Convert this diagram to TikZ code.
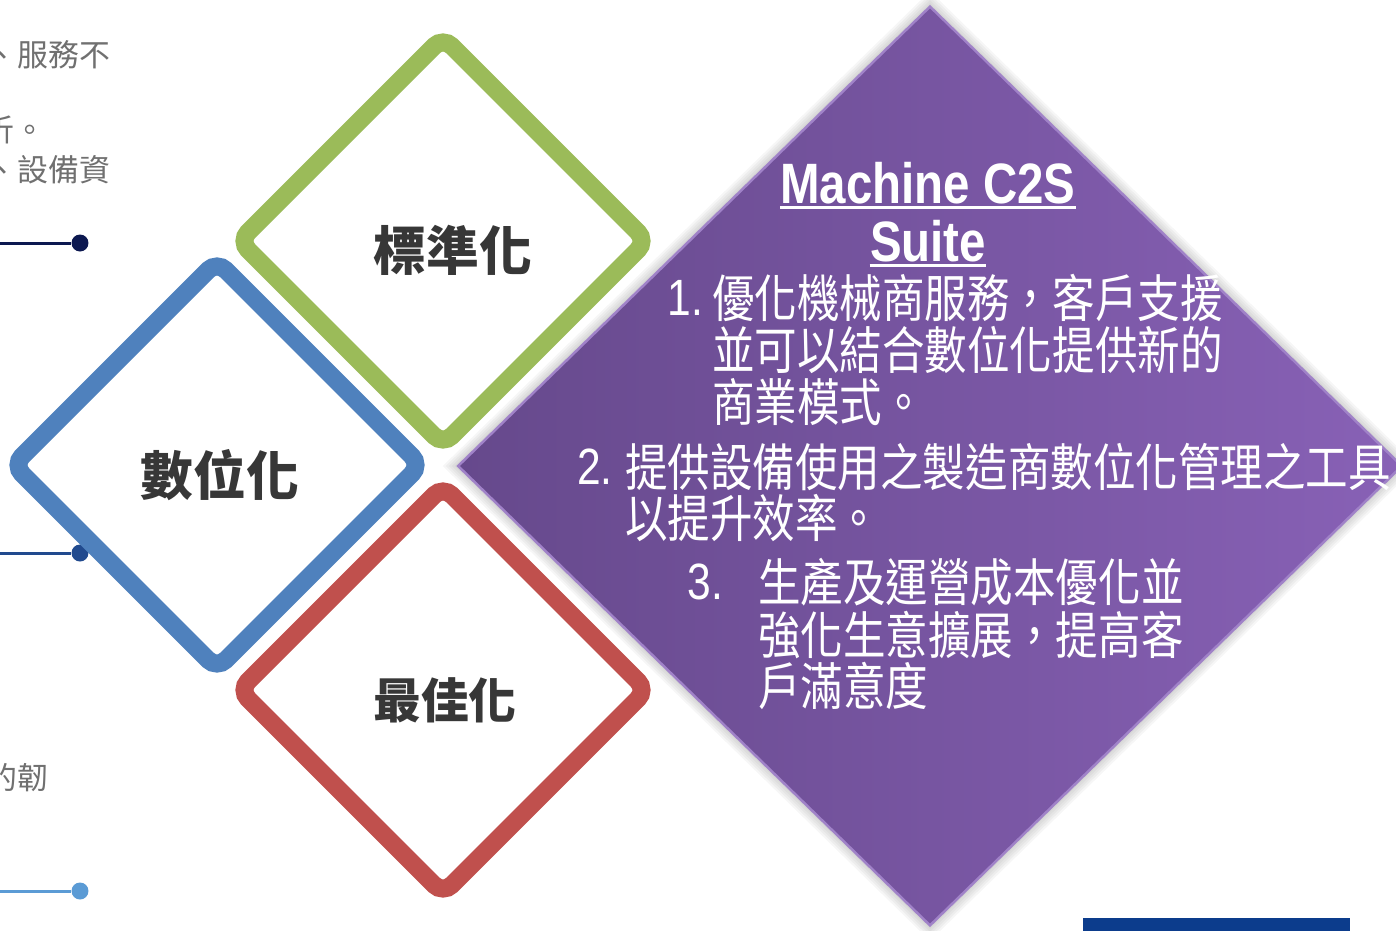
\documentclass[tikz,border=0pt]{standalone}
\usepackage{fontspec}
\usepackage{graphicx}
\setmainfont{Liberation Sans}
\newfontfamily\cjk{Noto Sans CJK TC}
\usetikzlibrary{shapes.geometric}

\definecolor{stdgreen}{RGB}{155,187,89}
\definecolor{digblue}{RGB}{79,129,189}
\definecolor{optred}{RGB}{192,80,77}
\definecolor{suiteleft}{RGB}{102,73,140}
\definecolor{suiteright}{RGB}{136,97,182}
\definecolor{suiteedge}{RGB}{160,130,200}
\definecolor{sidegray}{RGB}{112,112,112}
\definecolor{labelgray}{RGB}{55,55,55}
\definecolor{navyline}{RGB}{12,24,80}
\definecolor{midline}{RGB}{33,74,142}
\definecolor{lightline}{RGB}{91,155,213}
\definecolor{barblue}{RGB}{12,60,140}

\newcommand{\tallrow}[1]{\scalebox{1}[1.2]{#1}}

\tikzset{
  ring/.style={diamond, aspect=1, inner sep=0pt, minimum width=8.3cm, minimum height=8.3cm,
    line width=0.36cm, rounded corners=0.25cm, fill=white},
  suite/.style={diamond, inner sep=0pt, minimum width=18.9cm, minimum height=18.4cm,
    left color=suiteleft, right color=suiteright, draw=suiteedge, line width=0.05cm},
  halo/.style={diamond, inner sep=0pt, fill=black, fill opacity=0.035},
  ringlabel/.style={inner sep=0pt, text=labelgray, font=\cjk\bfseries\fontsize{30}{36}\selectfont},
  sidetext/.style={anchor=west, inner sep=0pt, text=sidegray, font=\cjk\fontsize{17.6}{21}\selectfont},
  suitetext/.style={anchor=west, inner sep=0pt, text=white, font=\cjk\fontsize{24.2}{29}\selectfont},
  suitenum/.style={anchor=west, inner sep=0pt, text=white, font=\fontsize{24.2}{29}\selectfont},
  suitetitle/.style={inner sep=0pt, text=white, font=\bfseries\fontsize{27}{32}\selectfont},
  pinline/.style={line width=0.06cm},
  pin/.style={circle, inner sep=0pt, minimum size=0.34cm}
}

\begin{document}
\begin{tikzpicture}[x=0.02cm, y=-0.02cm]
  \useasboundingbox (0,0) rectangle (1396,930);

  % text running in from the left
  \node[sidetext] (side1) at (-14,55) {、服務不};
  \node[sidetext] (side2) at (-17,130) {析。};
  \node[sidetext] (side3) at (-14,170) {、設備資};
  \node[sidetext] (side4) at (-14,778) {的韌};

  % pins on the left
  \coordinate (navystart) at (-5,243);
  \node[pin, fill=navyline] (navypin) at (80,243) {};
  \draw[pinline, navyline] (navystart) -- (navypin);
  \coordinate (midstart) at (-5,553);
  \node[pin, fill=midline] (midpin) at (80,553) {};
  \draw[pinline, midline] (midstart) -- (midpin);
  \coordinate (lightstart) at (-5,891);
  \node[pin, fill=lightline] (lightpin) at (80,891) {};
  \draw[pinline, lightline] (lightstart) -- (lightpin);

  % soft glow behind the big diamond
  \foreach \g in {1,...,5}
    \node[halo, minimum width=18.9cm+\g*0.12cm, minimum height=18.4cm+\g*0.12cm] at (930,466) {};

  % three rings
  \node[ring, draw=stdgreen] (std) at (443,241) {};
  \node[ring, draw=digblue] (dig) at (217,465) {};
  \node[ring, draw=optred] (opt) at (443,690) {};
  \node[ringlabel] (stdtxt) at (453,250) {標準化};
  \node[ringlabel] (digtxt) at (220,475) {數位化};
  \node[ringlabel, font=\cjk\bfseries\fontsize{27.2}{32}\selectfont] (opttxt) at (445,700) {最佳化};

  % the suite
  \node[suite] (suite) at (930,466) {};
  \node[suitetitle] (ttl1) at (928,183) {\tallrow{Machine C2S}};
  \draw[white, line width=0.06cm] ([yshift=-0.09cm]ttl1.base west) -- ([yshift=-0.09cm]ttl1.base east);
  \node[suitetitle] (ttl2) at (928,241) {\tallrow{Suite}};
  \draw[white, line width=0.06cm] ([yshift=-0.09cm]ttl2.base west) -- ([yshift=-0.09cm]ttl2.base east);

  \node[suitenum] (num1) at (667,298) {\tallrow{1.}};
  \node[suitetext] (row1a) at (712,298) {\tallrow{優化機械商服務，客戶支援}};
  \node[suitetext] (row1b) at (712,350) {\tallrow{並可以結合數位化提供新的}};
  \node[suitetext] (row1c) at (712,402) {\tallrow{商業模式。}};

  \node[suitenum] (num2) at (577,467) {\tallrow{2.}};
  \node[suitetext] (row2a) at (625,467) {\tallrow{提供設備使用之製造商數位化管理之工具}};
  \node[suitetext] (row2b) at (625,518) {\tallrow{以提升效率。}};

  \node[suitenum] (num3) at (687,582) {\tallrow{3.}};
  \node[suitetext] (row3a) at (758,582) {\tallrow{生產及運營成本優化並}};
  \node[suitetext] (row3b) at (758,635) {\tallrow{強化生意擴展，提高客}};
  \node[suitetext] (row3c) at (758,686) {\tallrow{戶滿意度}};

  % bar at the lower right
  \fill[barblue] (1083,918) rectangle (1350,936);
\end{tikzpicture}
\end{document}
